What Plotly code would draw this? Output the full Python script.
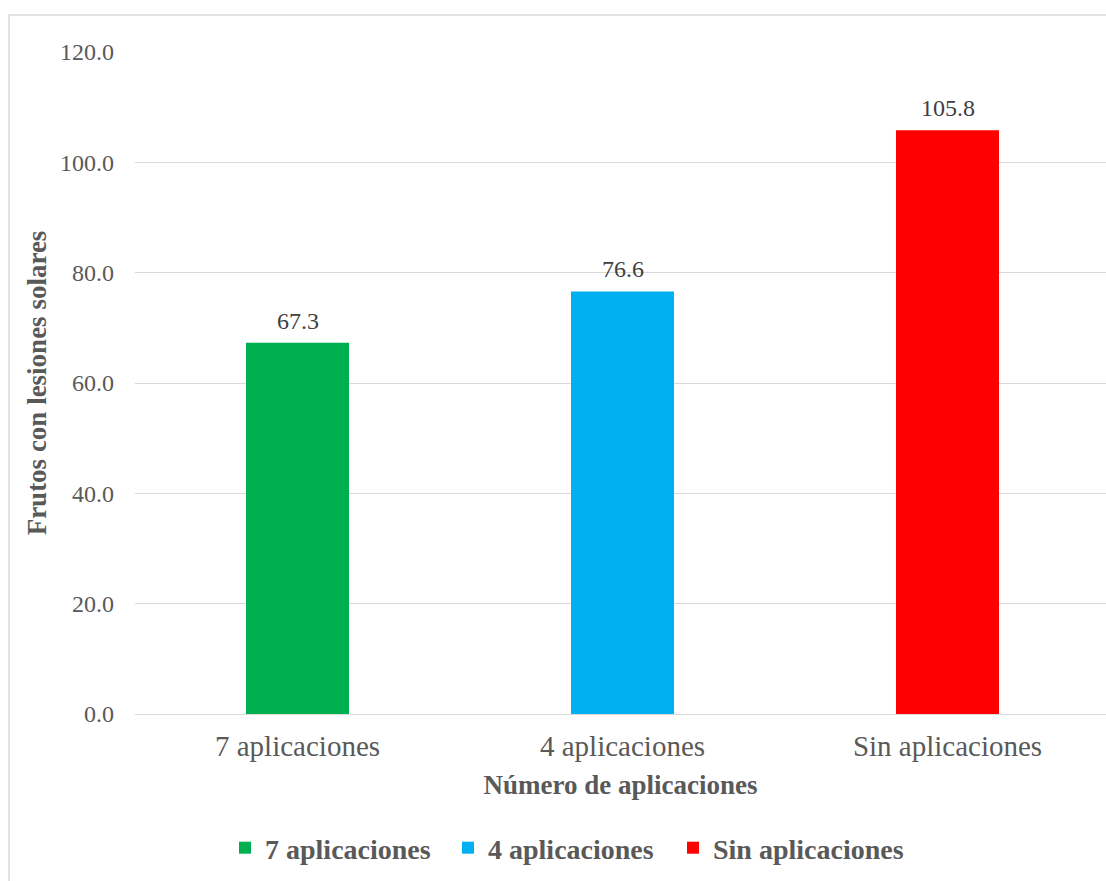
import plotly.graph_objects as go

# Frutos con lesiones solares según número de aplicaciones
categorias = ["7 aplicaciones", "4 aplicaciones", "Sin aplicaciones"]
valores = [67.3, 76.6, 105.8]
colores = ["#00B050", "#00B0F0", "#FF0000"]
ticks_y = [0, 20, 40, 60, 80, 100, 120]

SERIF = "Times New Roman, Liberation Serif, serif"
W, H = 1106, 881
L, R, T, B = 135, 0, 52, 167
plot_w = W - L - R
plot_h = H - T - B
paso_cat = 325  # px per category


def px_x(p):
    return (p - L) / plot_w


def px_y(p):
    return (H - B - p) / plot_h


# one legend box per series, laid out left to right
leyendas = ["legend", "legend2", "legend3"]
leyenda_x = [225, 448, 673]

fig = go.Figure()
for cat, val, col, leg in zip(categorias, valores, colores, leyendas):
    fig.add_trace(go.Bar(
        x=[cat], y=[val], name=cat, legend=leg,
        marker=dict(color=col, line=dict(width=0)),
        width=0.317,
    ))
    # value label above each bar
    fig.add_annotation(x=cat, y=val, text=f"{val:.1f}", showarrow=False,
                       yanchor="middle", yshift=22,
                       font=dict(family=SERIF, size=24, color="#404040"))

# chart frame
fig.add_shape(type="rect", xref="paper", yref="paper",
              x0=px_x(9), x1=px_x(1130), y0=px_y(900), y1=px_y(15),
              line=dict(color="#D9D9D9", width=1.5), fillcolor="rgba(0,0,0,0)",
              layer="below")

legend_style = dict(orientation="h", xanchor="left", y=px_y(848), yanchor="middle",
                    font=dict(family=SERIF, size=28, color="#595959", weight="bold"),
                    itemwidth=30, bgcolor="rgba(0,0,0,0)")

fig.update_layout(
    width=W, height=H,
    margin=dict(l=L, r=R, t=T, b=B),
    paper_bgcolor="white", plot_bgcolor="white",
    barmode="overlay",
    font=dict(family=SERIF, color="#595959"),
    showlegend=True,
    xaxis=dict(
        range=[-0.5, -0.5 + plot_w / paso_cat],
        showgrid=False, zeroline=False, showline=False,
        tickfont=dict(family=SERIF, size=29, color="#595959"),
        ticks="", ticklabelstandoff=12,
        title=dict(text="Número de aplicaciones", standoff=14,
                   font=dict(family=SERIF, size=27, color="#595959", weight="bold")),
    ),
    yaxis=dict(
        range=[0, 120], tickvals=ticks_y,
        ticktext=[f"{v:.1f}" for v in ticks_y],
        showgrid=True, gridcolor="#D9D9D9", gridwidth=1.3,
        zeroline=True, zerolinecolor="#D9D9D9", zerolinewidth=1.3,
        showline=False, ticks="", ticklabelstandoff=20,
        tickfont=dict(family=SERIF, size=24, color="#595959"),
        title=dict(text="Frutos con lesiones solares", standoff=5,
                   font=dict(family=SERIF, size=27, color="#595959", weight="bold")),
    ),
)
for leg, lx in zip(leyendas, leyenda_x):
    fig.update_layout({leg: dict(x=px_x(lx), **legend_style)})

fig.write_html("out.html")
